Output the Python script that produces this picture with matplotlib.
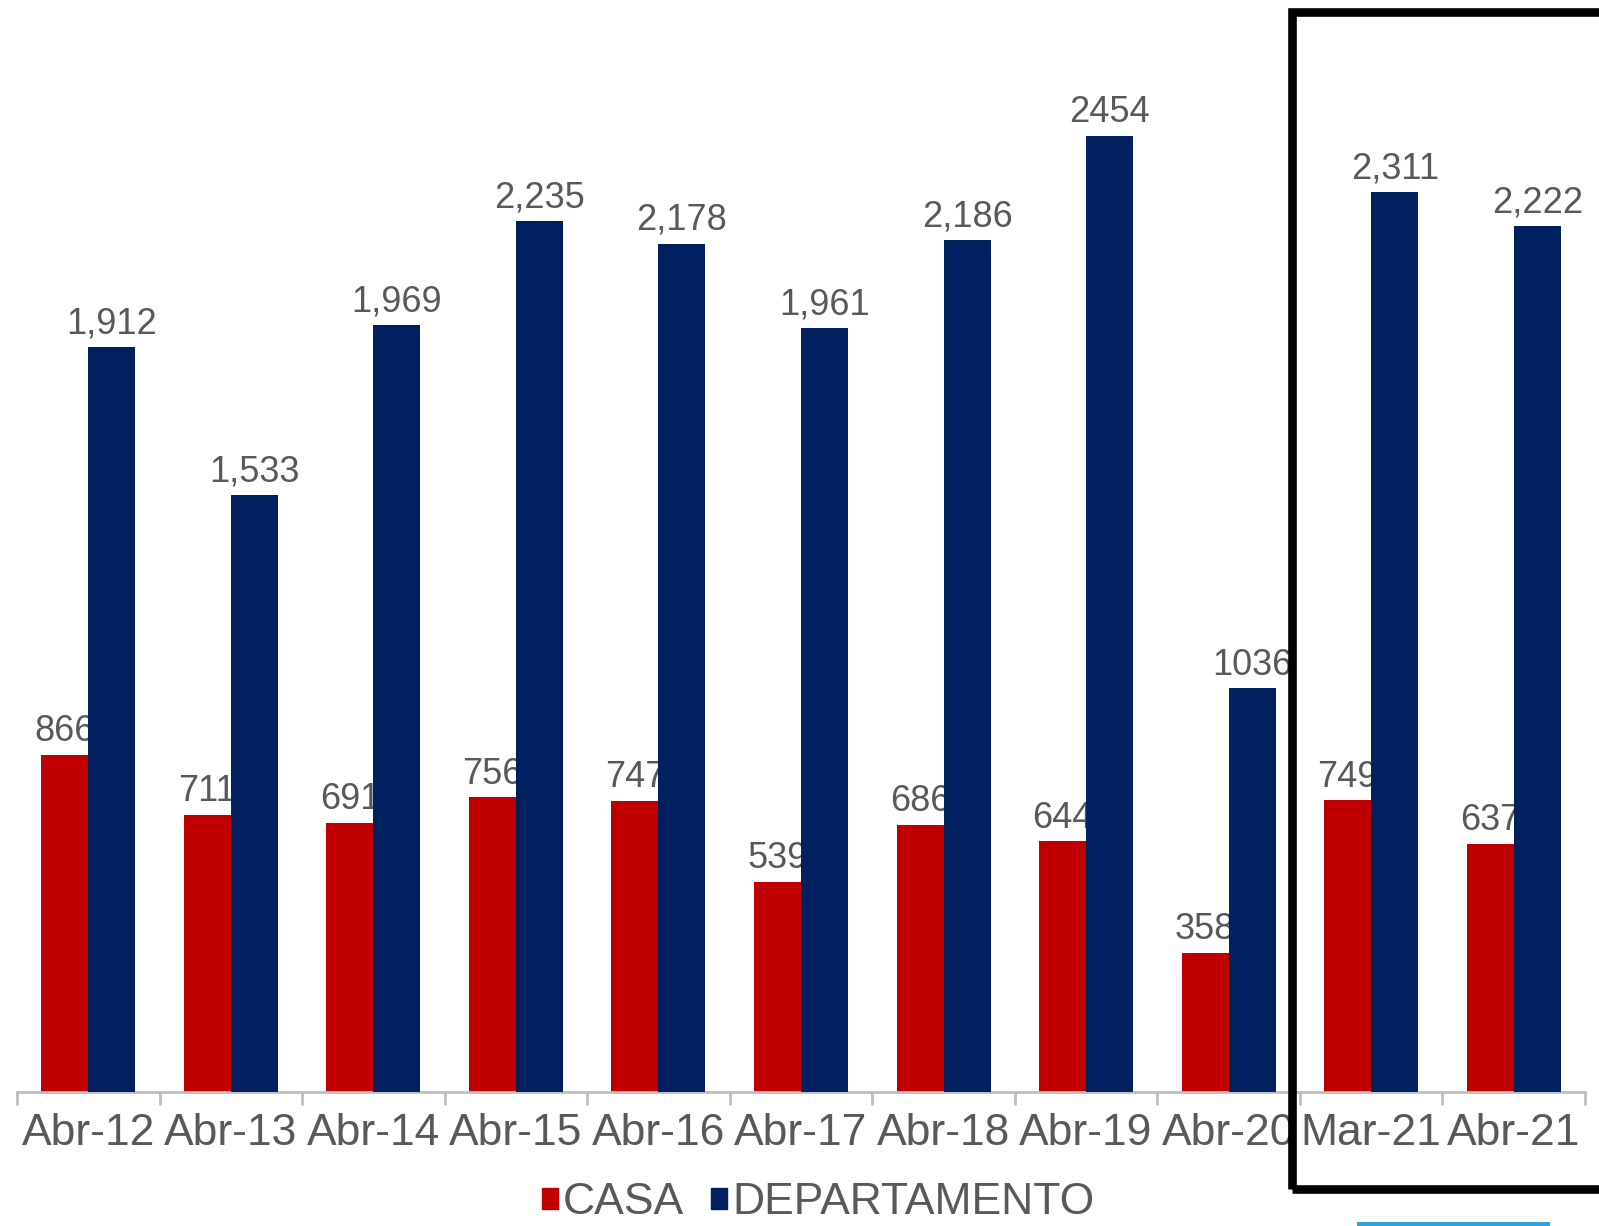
import matplotlib
matplotlib.use('Agg')
import matplotlib.pyplot as plt
from matplotlib.patches import Rectangle, Patch
import numpy as np

plt.rcParams['font.family'] = ['Liberation Sans', 'DejaVu Sans']

# data
categories = ['Abr-12', 'Abr-13', 'Abr-14', 'Abr-15', 'Abr-16', 'Abr-17',
              'Abr-18', 'Abr-19', 'Abr-20', 'Mar-21', 'Abr-21']
casa = [866, 711, 691, 756, 747, 539, 686, 644, 358, 749, 637]
departamento = [1912, 1533, 1969, 2235, 2178, 1961, 2186, 2454, 1036, 2311, 2222]
casa_labels = ['866', '711', '691', '756', '747', '539', '686', '644', '358', '749', '637']
depto_labels = ['1,912', '1,533', '1,969', '2,235', '2,178', '1,961', '2,186',
                '2454', '1036', '2,311', '2,222']

RED = '#C00000'
BLUE = '#002060'
TXT = '#595959'
AXC = '#BFBFBF'

W, H = 1599, 1226
fig = plt.figure(figsize=(W / 100, H / 100), dpi=100)
ax = fig.add_axes([17 / W, 134 / H, (1585 - 17) / W, 1092 / H])

x = np.arange(len(categories))
bw = 0.33
ax.bar(x - bw / 2, casa, bw, color=RED, zorder=1)
ax.bar(x + bw / 2, departamento, bw, color=BLUE, zorder=3)

# labels over red bars sit under the blue bars, like the original
for xi, v, s in zip(x, casa, casa_labels):
    ax.annotate(s, (xi - bw / 2, v), xytext=(0, 4), textcoords='offset points',
                ha='center', va='bottom', fontsize=26, color=TXT, zorder=2)
for xi, v, s in zip(x, departamento, depto_labels):
    ax.annotate(s, (xi + bw / 2, v), xytext=(0, 4), textcoords='offset points',
                ha='center', va='bottom', fontsize=26, color=TXT, zorder=4)

ax.set_xlim(-0.5, len(categories) - 0.5)
ax.set_ylim(0, 1092 / ((1092 - 136) / 2454))

for side in ['top', 'right', 'left']:
    ax.spines[side].set_visible(False)
ax.spines['bottom'].set_color(AXC)
ax.spines['bottom'].set_linewidth(2)
ax.set_yticks([])

ax.set_xticks(x)
ax.set_xticklabels(categories, fontsize=32, color=TXT)
ax.tick_params(axis='x', which='major', length=0, pad=15)
ax.set_xticks(np.arange(-0.5, len(categories)), minor=True)
ax.tick_params(axis='x', which='minor', length=9, width=2, color=AXC)

handles = [Patch(color=RED, label='CASA'), Patch(color=BLUE, label='DEPARTAMENTO')]
fig.legend(handles=handles, loc='center', bbox_to_anchor=(818 / W, 1 - 1203 / H),
           frameon=False, fontsize=32, handlelength=0.36, handleheight=0.36,
           handletextpad=0.12, columnspacing=0.6, ncol=2, labelcolor=TXT,
           borderpad=0, borderaxespad=0)

# black highlight box around the last two months
fig.add_artist(Rectangle((1292 / W, 1 - 1189 / H), (W - 1292 + 20) / W, (1189 - 12) / H,
                         transform=fig.transFigure, fill=False, edgecolor='black',
                         linewidth=6.2, clip_on=False))
# bit of cyan at the bottom edge of the screenshot
fig.add_artist(Rectangle((1357 / W, 0), (1550 - 1357) / W, 4 / H,
                         transform=fig.transFigure, color='#2AA6D8', linewidth=0))

fig.savefig('out.png', dpi=100)
